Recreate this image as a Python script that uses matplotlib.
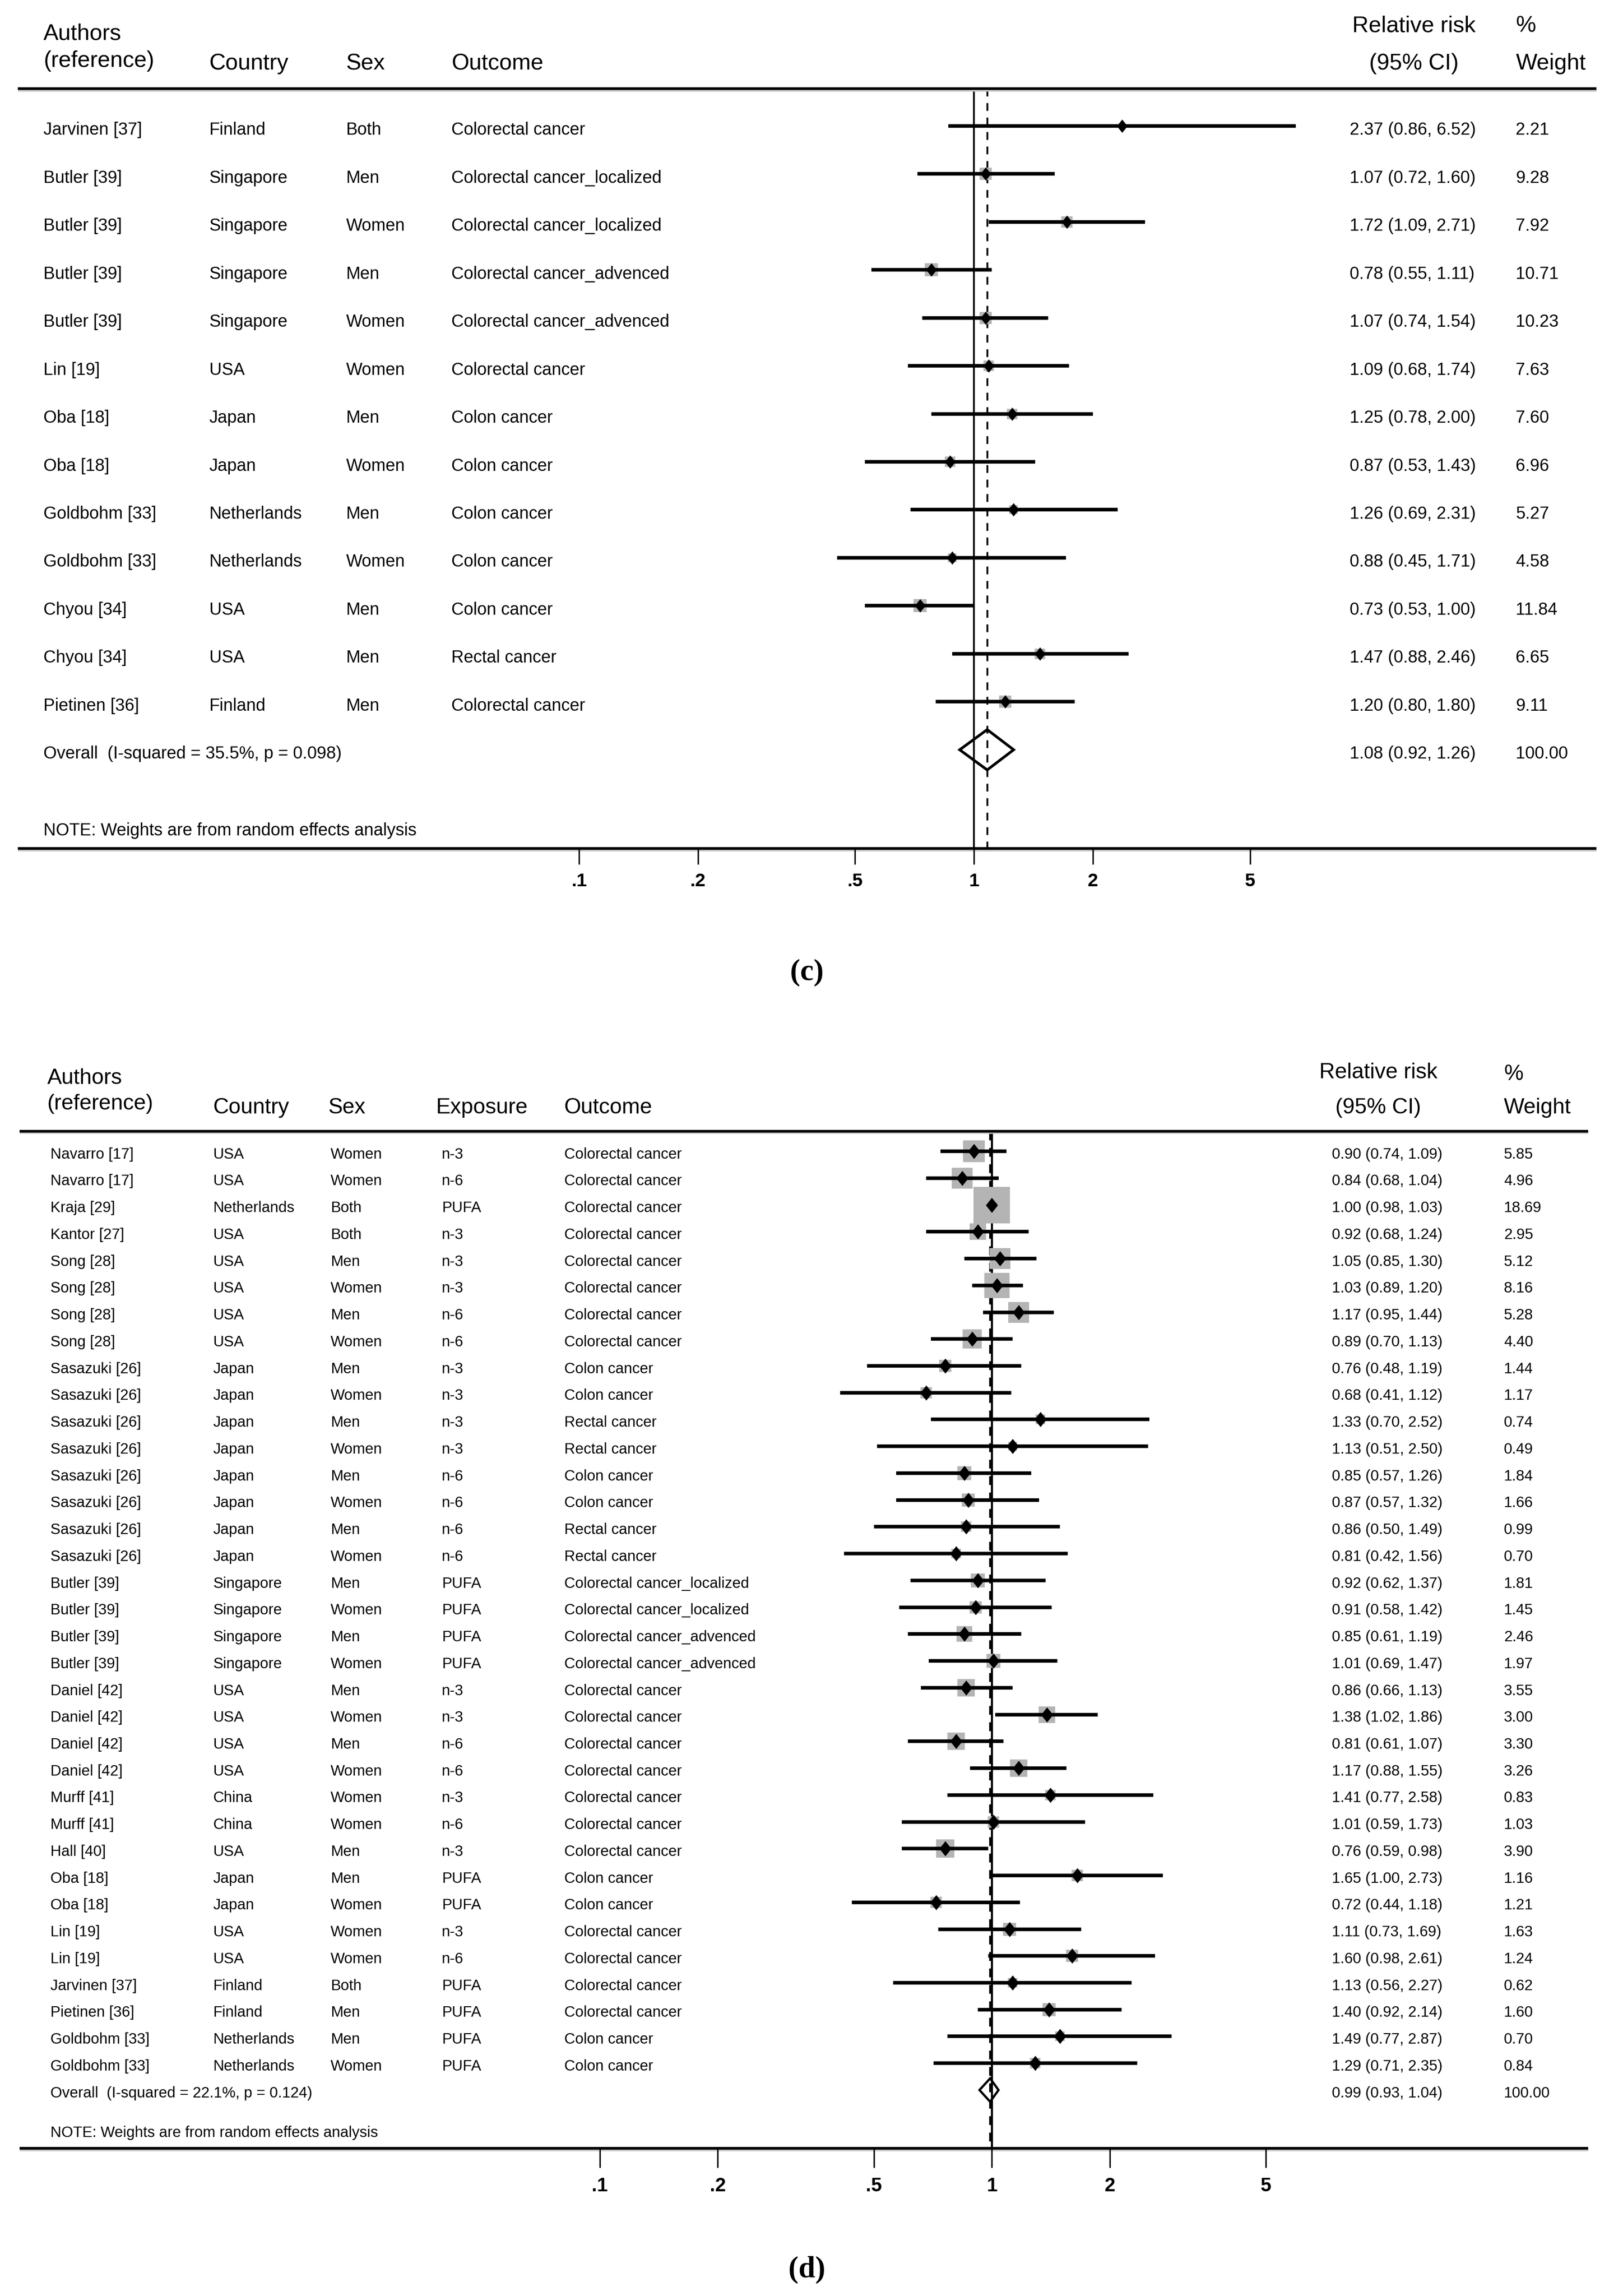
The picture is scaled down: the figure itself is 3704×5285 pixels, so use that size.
import numpy as np
import matplotlib.pyplot as plt
from matplotlib import transforms

plt.rcParams['font.family'] = ['Liberation Sans', 'DejaVu Sans']

# ---- panel (c) data ----
authors_c = ["Jarvinen [37]", "Butler [39]", "Butler [39]", "Butler [39]", "Butler [39]",
             "Lin [19]", "Oba [18]", "Oba [18]", "Goldbohm [33]", "Goldbohm [33]",
             "Chyou [34]", "Chyou [34]", "Pietinen [36]"]
country_c = ["Finland", "Singapore", "Singapore", "Singapore", "Singapore", "USA", "Japan",
             "Japan", "Netherlands", "Netherlands", "USA", "USA", "Finland"]
sex_c = ["Both", "Men", "Women", "Men", "Women", "Women", "Men", "Women", "Men", "Women",
         "Men", "Men", "Men"]
outcome_c = ["Colorectal cancer", "Colorectal cancer_localized", "Colorectal cancer_localized",
             "Colorectal cancer_advenced", "Colorectal cancer_advenced", "Colorectal cancer",
             "Colon cancer", "Colon cancer", "Colon cancer", "Colon cancer", "Colon cancer",
             "Rectal cancer", "Colorectal cancer"]
rr_c = [2.37, 1.07, 1.72, 0.78, 1.07, 1.09, 1.25, 0.87, 1.26, 0.88, 0.73, 1.47, 1.20]
lo_c = [0.86, 0.72, 1.09, 0.55, 0.74, 0.68, 0.78, 0.53, 0.69, 0.45, 0.53, 0.88, 0.80]
hi_c = [6.52, 1.60, 2.71, 1.11, 1.54, 1.74, 2.00, 1.43, 2.31, 1.71, 1.00, 2.46, 1.80]
w_c = [2.21, 9.28, 7.92, 10.71, 10.23, 7.63, 7.60, 6.96, 5.27, 4.58, 11.84, 6.65, 9.11]
overall_c = [1.08, 0.92, 1.26]
overall_lab_c = "Overall  (I-squared = 35.5%, p = 0.098)"

# ---- panel (d) data ----
authors_d = ["Navarro [17]", "Navarro [17]", "Kraja [29]", "Kantor [27]", "Song [28]", "Song [28]",
             "Song [28]", "Song [28]", "Sasazuki [26]", "Sasazuki [26]", "Sasazuki [26]",
             "Sasazuki [26]", "Sasazuki [26]", "Sasazuki [26]", "Sasazuki [26]", "Sasazuki [26]",
             "Butler [39]", "Butler [39]", "Butler [39]", "Butler [39]", "Daniel [42]",
             "Daniel [42]", "Daniel [42]", "Daniel [42]", "Murff [41]", "Murff [41]", "Hall [40]",
             "Oba [18]", "Oba [18]", "Lin [19]", "Lin [19]", "Jarvinen [37]", "Pietinen [36]",
             "Goldbohm [33]", "Goldbohm [33]"]
country_d = ["USA", "USA", "Netherlands", "USA", "USA", "USA", "USA", "USA",
             "Japan", "Japan", "Japan", "Japan", "Japan", "Japan", "Japan", "Japan",
             "Singapore", "Singapore", "Singapore", "Singapore", "USA", "USA", "USA", "USA",
             "China", "China", "USA", "Japan", "Japan", "USA", "USA", "Finland", "Finland",
             "Netherlands", "Netherlands"]
sex_d = ["Women", "Women", "Both", "Both", "Men", "Women", "Men", "Women",
         "Men", "Women", "Men", "Women", "Men", "Women", "Men", "Women",
         "Men", "Women", "Men", "Women", "Men", "Women", "Men", "Women",
         "Women", "Women", "Men", "Men", "Women", "Women", "Women", "Both", "Men",
         "Men", "Women"]
exposure_d = ["n-3", "n-6", "PUFA", "n-3", "n-3", "n-3", "n-6", "n-6",
              "n-3", "n-3", "n-3", "n-3", "n-6", "n-6", "n-6", "n-6",
              "PUFA", "PUFA", "PUFA", "PUFA", "n-3", "n-3", "n-6", "n-6",
              "n-3", "n-6", "n-3", "PUFA", "PUFA", "n-3", "n-6", "PUFA", "PUFA",
              "PUFA", "PUFA"]
outcome_d = ["Colorectal cancer"] * 8 + \
            ["Colon cancer", "Colon cancer", "Rectal cancer", "Rectal cancer",
             "Colon cancer", "Colon cancer", "Rectal cancer", "Rectal cancer",
             "Colorectal cancer_localized", "Colorectal cancer_localized",
             "Colorectal cancer_advenced", "Colorectal cancer_advenced"] + \
            ["Colorectal cancer"] * 7 + ["Colon cancer", "Colon cancer"] + \
            ["Colorectal cancer"] * 4 + ["Colon cancer", "Colon cancer"]
rr_d = [0.90, 0.84, 1.00, 0.92, 1.05, 1.03, 1.17, 0.89, 0.76, 0.68, 1.33, 1.13, 0.85, 0.87,
        0.86, 0.81, 0.92, 0.91, 0.85, 1.01, 0.86, 1.38, 0.81, 1.17, 1.41, 1.01, 0.76, 1.65,
        0.72, 1.11, 1.60, 1.13, 1.40, 1.49, 1.29]
lo_d = [0.74, 0.68, 0.98, 0.68, 0.85, 0.89, 0.95, 0.70, 0.48, 0.41, 0.70, 0.51, 0.57, 0.57,
        0.50, 0.42, 0.62, 0.58, 0.61, 0.69, 0.66, 1.02, 0.61, 0.88, 0.77, 0.59, 0.59, 1.00,
        0.44, 0.73, 0.98, 0.56, 0.92, 0.77, 0.71]
hi_d = [1.09, 1.04, 1.03, 1.24, 1.30, 1.20, 1.44, 1.13, 1.19, 1.12, 2.52, 2.50, 1.26, 1.32,
        1.49, 1.56, 1.37, 1.42, 1.19, 1.47, 1.13, 1.86, 1.07, 1.55, 2.58, 1.73, 0.98, 2.73,
        1.18, 1.69, 2.61, 2.27, 2.14, 2.87, 2.35]
w_d = [5.85, 4.96, 18.69, 2.95, 5.12, 8.16, 5.28, 4.40, 1.44, 1.17, 0.74, 0.49, 1.84, 1.66,
       0.99, 0.70, 1.81, 1.45, 2.46, 1.97, 3.55, 3.00, 3.30, 3.26, 0.83, 1.03, 3.90, 1.16,
       1.21, 1.63, 1.24, 0.62, 1.60, 0.70, 0.84]
overall_d = [0.99, 0.93, 1.04]
overall_lab_d = "Overall  (I-squared = 22.1%, p = 0.124)"

tick_vals = [0.1, 0.2, 0.5, 1, 2, 5]
tick_labs = [".1", ".2", ".5", "1", "2", "5"]

# ---- figure (all layout numbers below are in a 1100 px wide reference frame) ----
WPX, HPX = 3705, 5285
S = WPX / 1100.0
H = HPX / S
fig = plt.figure(figsize=(WPX / 100, HPX / 100), dpi=100)

diamond = [(0, 1), (0.8, 0), (0, -1), (-0.8, 0), (0, 1)]
BOXGRAY = '#b4b4b4'


def panel(ytop, ybot, row0, step, one_x, decade, cols, rr, lo, hi, w, ov, ovlab, label, c):
    ax = fig.add_axes([0, 1 - ybot / H, 1, (ybot - ytop) / H])
    ax.set_xscale('log')
    ax.set_xlim(10 ** (-one_x / decade), 10 ** ((1100 - one_x) / decade))
    ax.set_ylim((ybot - row0) / step, (ytop - row0) / step)
    ax.axis('off')
    tr = transforms.blended_transform_factory(ax.transAxes, ax.transData)
    n = len(rr)

    # header
    for txt, x, y, ha in c['header']:
        ax.text(x / 1100, y, txt, transform=tr, ha=ha, va='baseline', fontsize=c['hfs'])

    # rules (dark line with a light grey shadow underneath)
    x0, x1 = c['rule_x']
    for yy in (c['top'], c['axis']):
        ax.plot([x0 / 1100, x1 / 1100], [yy + c['shadow'], yy + c['shadow']], transform=tr,
                color='#c8c8c8', lw=3.5, solid_capstyle='butt')
        ax.plot([x0 / 1100, x1 / 1100], [yy, yy], transform=tr, color='black',
                lw=4.5, solid_capstyle='butt')

    # reference lines
    ax.plot([1, 1], [c['top'], c['axis']], color='black', lw=c['vlw'], zorder=1)
    ax.plot([ov[0], ov[0]], [c['top'], c['axis']], color='black', lw=c['vlw'],
            dashes=(4.3, 3.7), zorder=1)

    # ticks
    for v, s in zip(tick_vals, tick_labs):
        ax.plot([v, v], [c['axis'], c['tickbot']], color='black', lw=2.4)
        ax.text(v, c['ticklab'], s, ha='center', va='baseline', fontsize=c['tfs'],
                fontweight='bold')

    # studies
    for i in range(n):
        side = c['box_a'] + c['box_b'] * np.sqrt(w[i])
        ax.plot(rr[i], i, marker='s', ms=side * 0.72, color=BOXGRAY, mew=0, zorder=2)
        ax.plot([lo[i], hi[i]], [i, i], color='black', lw=6, solid_capstyle='butt', zorder=3)
        ax.plot(rr[i], i, marker=diamond, ms=c['dms'], color='black', mew=0, zorder=4)
        yb = i + c['toff']
        for k, col in enumerate(cols):
            ax.text(c['colx'][k] / 1100, yb, col[i], transform=tr, ha='left',
                    va='baseline', fontsize=c['fs'])
        ax.text(c['rrx'] / 1100, yb, f"{rr[i]:.2f} ({lo[i]:.2f}, {hi[i]:.2f})",
                transform=tr, ha='left', va='baseline', fontsize=c['fs'])
        ax.text(c['wx'] / 1100, yb, f"{w[i]:.2f}", transform=tr, ha='left',
                va='baseline', fontsize=c['fs'])

    # overall
    h = c['dh']
    ax.fill([ov[1], ov[0], ov[2], ov[0]], [n, n - h, n, n + h], facecolor='none',
            edgecolor='black', lw=c['dlw'], joinstyle='miter', zorder=4)
    ax.text(c['colx'][0] / 1100, n + c['toff'], ovlab, transform=tr, ha='left',
            va='baseline', fontsize=c['fs'])
    ax.text(c['rrx'] / 1100, n + c['toff'], f"{ov[0]:.2f} ({ov[1]:.2f}, {ov[2]:.2f})",
            transform=tr, ha='left', va='baseline', fontsize=c['fs'])
    ax.text(c['wx'] / 1100, n + c['toff'], "100.00", transform=tr, ha='left',
            va='baseline', fontsize=c['fs'])
    ax.text(c['colx'][0] / 1100, c['note'], "NOTE: Weights are from random effects analysis",
            transform=tr, ha='left', va='baseline', fontsize=c['fs'])

    ax.text(551.6 / 1100, c['lab'], label, transform=tr, ha='center', va='center',
            fontsize=50, fontweight='bold', family='Liberation Serif')


cfg_c = dict(
    header=[("Authors", 29.8, -1.793, 'left'), ("(reference)", 29.8, -1.23, 'left'),
            ("Country", 143, -1.17, 'left'), ("Sex", 236.6, -1.17, 'left'),
            ("Outcome", 308.5, -1.17, 'left'), ("Relative risk", 966.5, -1.954, 'center'),
            ("(95% CI)", 966.5, -1.17, 'center'), ("%", 1036, -1.954, 'left'),
            ("Weight", 1036, -1.17, 'left')],
    hfs=37.5, fs=28.5, tfs=31, shadow=0.035,
    rule_x=(12.3, 1091), top=-0.774, axis=15.06, tickbot=15.37, ticklab=15.84,
    vlw=3.0, box_a=0, box_b=9.0, dms=22, toff=0.186, dh=0.42, dlw=4.5,
    colx=[29.8, 143, 236.6, 308.5], rrx=922.6, wx=1036, note=14.78, lab=17.65)

cfg_d = dict(
    header=[("Authors", 32.3, -2.51, 'left'), ("(reference)", 32.3, -1.55, 'left'),
            ("Country", 145.5, -1.41, 'left'), ("Sex", 224.4, -1.41, 'left'),
            ("Exposure", 298, -1.41, 'left'), ("Outcome", 385.6, -1.41, 'left'),
            ("Relative risk", 942, -2.72, 'center'), ("(95% CI)", 942, -1.41, 'center'),
            ("%", 1027.8, -2.66, 'left'), ("Weight", 1027.8, -1.41, 'left')],
    hfs=36, fs=25, tfs=32, shadow=0.06,
    rule_x=(13.3, 1085.6), top=-0.753, axis=37.17, tickbot=37.87, ticklab=38.77,
    vlw=3.4, box_a=7.0, box_b=18.0, dms=25, toff=0.27, dh=0.435, dlw=3.8,
    colx=[34.4, 145.5, 226, 302, 385.6], rrx=910.4, wx=1027.8, note=36.75, lab=41.69)

panel(0, 700, 86.0, 32.8, 665.7, 270.0,
      [authors_c, country_c, sex_c, outcome_c], rr_c, lo_c, hi_c, w_c,
      overall_c, overall_lab_c, "(c)", cfg_c)
panel(700, H, 786.8, 18.33, 677.9, 268.0,
      [authors_d, country_d, sex_d, exposure_d, outcome_d], rr_d, lo_d, hi_d, w_d,
      overall_d, overall_lab_d, "(d)", cfg_d)

fig.savefig("out.png", dpi=100, facecolor='white')
